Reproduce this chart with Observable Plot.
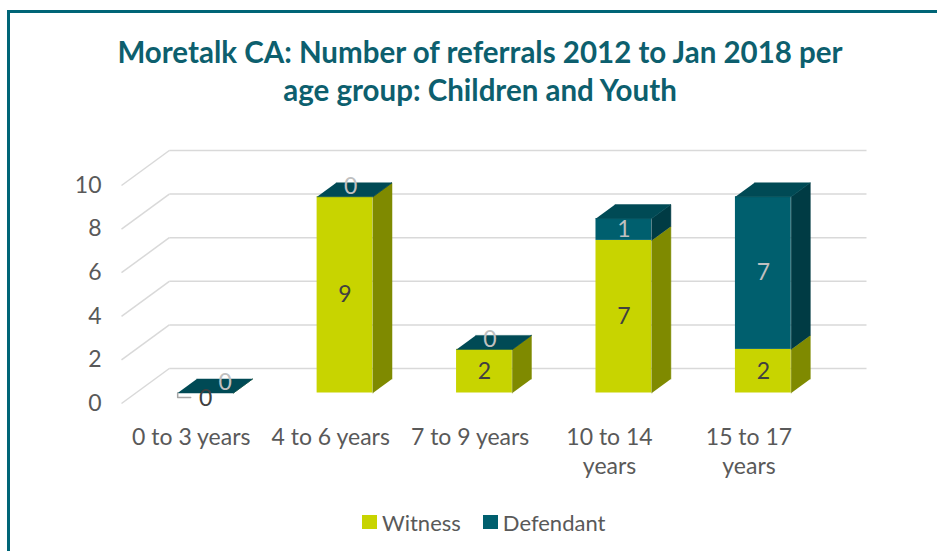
<!DOCTYPE html>
<html>
<head>
<meta charset="utf-8">
<script src="https://cdn.jsdelivr.net/npm/d3@7"></script>
<script src="https://cdn.jsdelivr.net/npm/@observablehq/plot@0.6"></script>
<style>
  html, body { margin: 0; padding: 0; background: #fff; overflow: hidden; width: 937px; height: 551px; }
  #frame { position: absolute; left: 7px; top: 10px; width: 1000px; height: 600px;
           border-left: 3px solid #006577; border-top: 3px solid #006577; }
  #title { position: absolute; left: 0; top: 33px; width: 960px; text-align: center;
           font-family: Lato, sans-serif; font-weight: bold; font-size: 29.5px; line-height: 38px; color: #0d5f6e; }
  #chart { position: absolute; left: 0; top: 130px; }
  #legend { position: absolute; left: 362px; top: 508px; height: 28px; display: flex; align-items: center;
            font-family: Lato, sans-serif; font-size: 22px; color: #595959; }
  .sw { width: 15px; height: 14px; display: inline-block; margin-right: 5px; }
  .item { display: flex; align-items: center; margin-right: 22px; }
</style>
</head>
<body>
<div id="frame"></div>
<div id="title">Moretalk CA: Number of referrals 2012 to Jan 2018 per<br>age group: Children and Youth</div>
<div id="chart"></div>
<div id="legend"></div>
<script>
// ---- data ----
const categories = ["0 to 3 years", "4 to 6 years", "7 to 9 years", "10 to 14 years", "15 to 17 years"];
const categoryLabels = ["0 to 3 years", "4 to 6 years", "7 to 9 years", "10 to 14\nyears", "15 to 17\nyears"];
const witness = [0, 9, 2, 7, 2];
const defendant = [0, 0, 0, 1, 7];
const seriesNames = ["Witness", "Defendant"];
const yTicks = [0, 2, 4, 6, 8, 10];

// ---- styling / 3D oblique projection constants ----
const colors = {
  Witness: {front: "#c8d400", side: "#7f8a00", top: "#a5ae00"},
  Defendant: {front: "#005f6e", side: "#003b44", top: "#004a55"}
};
const DX = 48 / 140;   // full floor depth, in x units
const DY = 35 / 21.8;  // full floor depth, in y units
const zF = 0.3, zB = 0.7, half = 0.2;
const PXX = 745 / (5 + DX);   // px per x unit
const PXY = 253 / (10 + DY);  // px per y unit

// stacked segments
const segs = [];
categories.forEach((c, i) => {
  segs.push({i, series: "Witness", y0: 0, y1: witness[i], v: witness[i], top: false, other: defendant[i]});
  segs.push({i, series: "Defendant", y0: witness[i], y1: witness[i] + defendant[i], v: defendant[i], top: true, other: witness[i]});
});

// faces
const fronts = segs.map(s => ({
  x1: s.i - half + zF * DX, x2: s.i + half + zF * DX,
  y1: s.y0 + zF * DY, y2: s.y1 + zF * DY, fill: colors[s.series].front
}));
const poly = (arr, id, fill) => arr.map(([x, y]) => ({id, x, y, fill}));
const sides = [], tops = [];
segs.forEach((s, k) => {
  const xr = s.i + half;
  sides.push(...poly([
    [xr + zF * DX, s.y0 + zF * DY], [xr + zF * DX, s.y1 + zF * DY],
    [xr + zB * DX, s.y1 + zB * DY], [xr + zB * DX, s.y0 + zB * DY]
  ], "s" + k, colors[s.series].side));
  if (s.top) {
    const xl = s.i - half;
    tops.push(...poly([
      [xl + zF * DX, s.y1 + zF * DY], [xr + zF * DX, s.y1 + zF * DY],
      [xr + zB * DX, s.y1 + zB * DY], [xl + zB * DX, s.y1 + zB * DY]
    ], "t" + k, colors[s.series].top));
  }
});
const polyMarks = [];
for (const set of [sides, tops]) {
  const fills = [...new Set(set.map(d => d.fill))];
  for (const f of fills) {
    polyMarks.push(Plot.line(set.filter(d => d.fill === f), {x: "x", y: "y", z: "id", fill: f, stroke: f, strokeWidth: 0.5}));
  }
}

const wSegs = segs.filter(s => s.series === "Witness");
const dSegs = segs.filter(s => s.series === "Defendant");

// leader lines for zero-valued witness labels
const leaders = [];
wSegs.filter(s => s.v === 0).forEach(s => {
  const x0 = s.i - half + zF * DX, y0 = zF * DY;
  leaders.push({id: s.i, x: x0, y: y0}, {id: s.i, x: x0, y: y0 - 4.5 / PXY}, {id: s.i, x: x0 + 13 / PXX, y: y0 - 4.5 / PXY});
});

const chart = Plot.plot({
  width: 937,
  height: 370,
  marginLeft: 121, marginRight: 71, marginTop: 20, marginBottom: 97,
  x: {domain: [-0.5, 4.5 + DX], range: [121, 866], axis: null},
  y: {domain: [0, 10 + DY], range: [273, 20], axis: null},
  style: {fontFamily: "Lato, sans-serif", fontSize: "23px", color: "#595959", background: "transparent"},
  marks: [
    // back wall gridlines
    Plot.link(yTicks, {x1: () => -0.5 + DX, x2: () => 4.5 + DX, y1: v => v + DY, y2: v => v + DY, stroke: "#d9d9d9", strokeWidth: 1.5}),
    // side wall gridlines
    Plot.link(yTicks, {x1: () => -0.5, x2: () => -0.5 + DX, y1: v => v, y2: v => v + DY, stroke: "#d9d9d9", strokeWidth: 1.5}),
    Plot.axisY(yTicks, {tickSize: 0, tickPadding: 20, fontSize: 23, label: null}),
    // bars
    Plot.rect(fronts, {x1: "x1", x2: "x2", y1: "y1", y2: "y2", fill: "fill", inset: 0}),
    ...polyMarks,
    // category labels
    Plot.text(categoryLabels, {x: (d, i) => i, y: () => 0, text: d => d, lineAnchor: "top", dy: 21, lineHeight: 1.26, fontSize: 23}),
    // value labels
    Plot.line(leaders, {x: "x", y: "y", z: "id", stroke: "#a6a6a6", strokeWidth: 1.5}),
    Plot.text(wSegs, {
      x: s => s.i + zF * DX,
      y: s => s.v === 0 ? zF * DY - 5.5 / PXY : (s.y0 + s.y1) / 2 + zF * DY,
      text: s => String(s.v), fill: "#404040", fontSize: 23
    }),
    Plot.text(dSegs, {
      x: s => s.v === 0 ? s.i + 0.5 * DX + (s.other === 0 ? 10 : -4) / PXX : s.i + zF * DX,
      y: s => s.v === 0 ? s.y1 + 0.5 * DY + 3 / PXY : (s.y0 + s.y1) / 2 + zF * DY,
      text: s => String(s.v), fill: "#c0c0c0", fontSize: 23
    })
  ]
});
document.getElementById("chart").appendChild(chart);

// legend
const legend = document.getElementById("legend");
seriesNames.forEach(name => {
  const it = document.createElement("div");
  it.className = "item";
  const sw = document.createElement("span");
  sw.className = "sw";
  sw.style.background = colors[name].front;
  it.appendChild(sw);
  it.appendChild(document.createTextNode(name));
  legend.appendChild(it);
});
</script>
</body>
</html>
